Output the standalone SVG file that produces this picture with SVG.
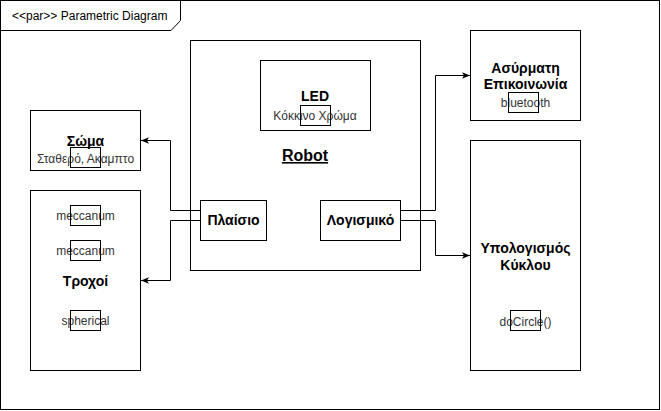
<svg xmlns="http://www.w3.org/2000/svg" width="661" height="411" viewBox="0 0 661 411">
<defs>
<style>
.box{fill:#fff;stroke:#000;stroke-width:1}
.port{fill:none;stroke:#000;stroke-width:1}
.ln{fill:none;stroke:#000;stroke-width:1}
.t{font-family:"Liberation Sans",Arial,sans-serif;text-anchor:middle}
.h{font-size:14px;font-weight:bold;fill:#000}
.s{font-size:12px;fill:#333}
</style>
<marker id="arr" viewBox="0 0 10 10" refX="10" refY="5" markerWidth="8" markerHeight="8" markerUnits="userSpaceOnUse" orient="auto">
<path d="M0,1 L10,5 L0,9 L2.5,5 Z" fill="#000"/>
</marker>
</defs>
<rect width="661" height="411" fill="#fff"/>
<g id="frame">
<rect x="0.5" y="0.5" width="659" height="409" fill="none" stroke="#000"/>
<path d="M0.5,30.5 H171 L180.5,20.5 V0.5" fill="none" stroke="#000"/>
<text x="12" y="20" style="font-family:'Liberation Sans',Arial,sans-serif;font-size:12px;fill:#000">&lt;&lt;par&gt;&gt; Parametric Diagram</text>
</g>
<g id="robot">
<rect class="box" x="190.5" y="40.5" width="230" height="230"/>
<text class="t" x="305" y="161" style="font-size:16px;font-weight:bold;text-decoration:underline">Robot</text>
</g>
<g id="led">
<rect class="box" x="260.5" y="60.5" width="110" height="70"/>
<text class="t h" x="315" y="101">LED</text>
<text class="t s" x="315" y="120">Κόκκινο Χρώμα</text>
<rect class="port" x="300.5" y="105.5" width="30" height="20"/>
</g>
<g id="plaisio">
<rect class="box" x="200.5" y="200.5" width="66" height="40"/>
<text class="t h" x="233.5" y="225">Πλαίσιο</text>
</g>
<g id="logismiko">
<rect class="box" x="320.5" y="200.5" width="80" height="40"/>
<text class="t h" x="360.5" y="225">Λογισμικό</text>
</g>
<g id="soma">
<rect class="box" x="30.5" y="110.5" width="110" height="60"/>
<text class="t h" x="85.5" y="146">Σώμα</text>
<text class="t s" x="85.5" y="163">Σταθερό, Ακαμπτο</text>
<rect class="port" x="70.5" y="147.5" width="30" height="20"/>
</g>
<g id="troxoi">
<rect class="box" x="30.5" y="190.5" width="110" height="180"/>
<text class="t s" x="85.5" y="219.5">meccanum</text>
<rect class="port" x="70.5" y="205.5" width="30" height="20"/>
<text class="t s" x="85.5" y="254.5">meccanum</text>
<rect class="port" x="70.5" y="240.5" width="30" height="20"/>
<text class="t h" x="85.5" y="286">Τροχοί</text>
<text class="t s" x="85.5" y="324.5">spherical</text>
<rect class="port" x="70.5" y="310.5" width="30" height="20"/>
</g>
<g id="asyrmati">
<rect class="box" x="470.5" y="30.5" width="110" height="90"/>
<text class="t h" x="525.5" y="73">Ασύρματη</text>
<text class="t h" x="525.5" y="89">Επικοινωνία</text>
<text class="t s" x="525.5" y="107">bluetooth</text>
<rect class="port" x="508.5" y="92.5" width="30" height="20"/>
</g>
<g id="ypologismos">
<rect class="box" x="470.5" y="140.5" width="110" height="230"/>
<text class="t h" x="525.5" y="253">Υπολογισμός</text>
<text class="t h" x="525.5" y="269.5">Κύκλου</text>
<text class="t s" x="525.5" y="325.5">doCircle()</text>
<rect class="port" x="510.5" y="310.5" width="30" height="20"/>
</g>
<g id="connectors">
<path class="ln" d="M200.5,210.5 H170.5 V140.5 H141" marker-end="url(#arr)"/>
<path class="ln" d="M200.5,220.5 H170.5 V280.5 H141" marker-end="url(#arr)"/>
<path class="ln" d="M400.5,210.5 H435.5 V75.5 H470" marker-end="url(#arr)"/>
<path class="ln" d="M400.5,220.5 H435.5 V255.5 H470" marker-end="url(#arr)"/>
</g>
</svg>
